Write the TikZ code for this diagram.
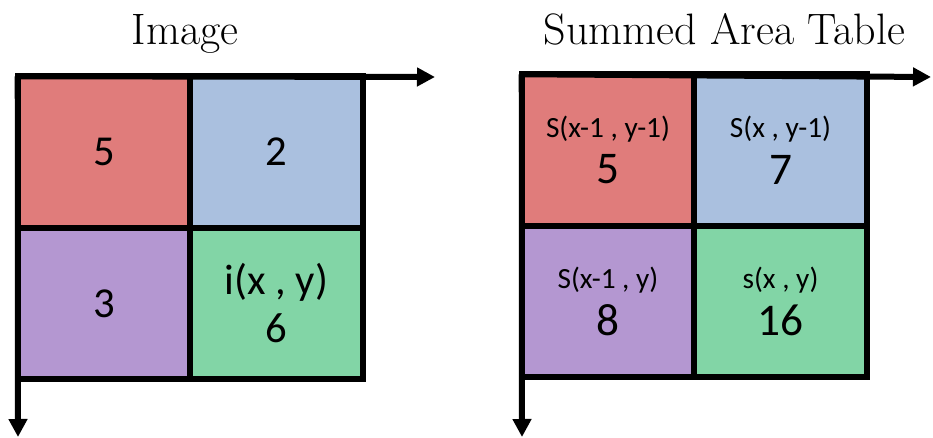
\documentclass[tikz,border=0pt]{standalone}
\usepackage{fontspec}
\usepackage{xcolor}
\usepackage{tikz}
\usetikzlibrary{arrows.meta, positioning}

\newfontfamily\calfont{Carlito}
\definecolor{cellred}{HTML}{E07C7B}
\definecolor{cellblue}{HTML}{AAC0DF}
\definecolor{cellpurple}{HTML}{B497D1}
\definecolor{cellgreen}{HTML}{82D5A6}
\newcommand{\celltag}[1]{{\fontsize{22}{26}\selectfont #1}}

\begin{document}
\begin{tikzpicture}[x=0.75pt, y=-0.75pt,
  axis/.style={-{Triangle[length=13.5pt, width=13.5pt]}, line width=4.5pt},
  cell/.style={draw, line width=4.5pt, line join=miter, outer sep=0pt, inner sep=0pt,
    minimum width=129.4pt, minimum height=113.6pt, align=center},
  imgcell/.style={cell, font=\calfont\fontsize{32}{36}\selectfont},
  satcell/.style={cell, font=\calfont\fontsize{34}{35}\selectfont},
  title/.style={anchor=base, font=\fontsize{33}{38}\selectfont}
]
  \useasboundingbox (0,0) rectangle (933,438);

  % Image
  \node (imgTitle) [title] at (185,45) {Image};
  \node (imgA) [imgcell, fill=cellred] at (104,152) {5};
  \node (imgB) [imgcell, fill=cellblue] at (276.5,152) {2};
  \node (imgC) [imgcell, fill=cellpurple] at (104,303.5) {3};
  \node (imgD) [imgcell, fill=cellgreen] at (276.5,303.5) {i(x , y)\\6};
  \coordinate (imgX) at (435,77);
  \coordinate (imgY) at (18,437);
  \draw[axis] (imgA.north west) -- (imgX);
  \draw[axis] (imgA.north west) -- (imgY);

  % Summed Area Table
  \node (satTitle) [title] at (724.5,45) {Summed Area Table};
  \node (satA) [satcell, fill=cellred] at (608,150) {\celltag{S(x-1 , y-1)}\\5};
  \node (satB) [satcell, fill=cellblue] at (780.5,150) {\celltag{S(x , y-1)}\\7};
  \node (satC) [satcell, fill=cellpurple] at (608,301.5) {\celltag{S(x-1 , y)}\\8};
  \node (satD) [satcell, fill=cellgreen] at (780.5,301.5) {\celltag{s(x , y)}\\16};
  \coordinate (satX) at (931,77);
  \coordinate (satY) at (522,437);
  \draw[axis] (satA.north west) -- (satX);
  \draw[axis] (satA.north west) -- (satY);

\end{tikzpicture}
\end{document}
